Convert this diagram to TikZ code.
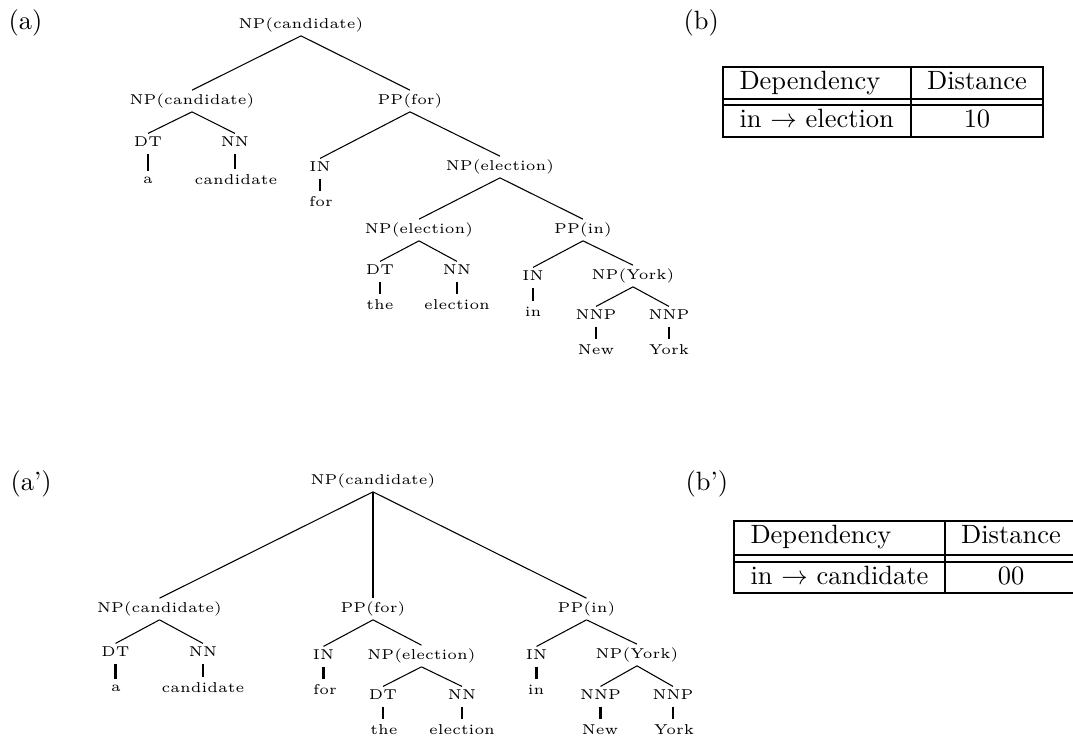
\documentclass[tikz,border=0pt]{standalone}
\usepackage{fontspec}
\newfontfamily\treefont{lmroman5-regular.otf}
\begin{document}
\begin{tikzpicture}[x=0.378pt,y=-0.378pt,
  tn/.style={font=\fontsize{5.4}{6.5}\treefont, inner sep=1.2pt},
  branch/.style={line width=0.4pt},
  leafbar/.style={line width=0.9pt, shorten <=1.2pt, shorten >=0.8pt},
  trunk/.style={line width=0.9pt},
  lbl/.style={anchor=base west, inner sep=0pt},
  cell/.style={anchor=base, inner sep=0pt},
  cellw/.style={anchor=base west, inner sep=0pt},
  rule/.style={line width=0.75pt}]
\useasboundingbox (0,0) rectangle (1073,738);

% ---------- panel labels ----------
\node[lbl] (la)  at (8,29.5)   {(a)};
\node[lbl] (lb)  at (683,29.5) {(b)};
\node[lbl] (la2) at (10,490.5) {(a')};
\node[lbl] (lb2) at (685,490.5) {(b')};

% ---------- tree (a) ----------
\node[tn] (r)    at (301,25)  {NP(candidate)};
\node[tn] (np1)  at (192,101) {NP(candidate)};
\node[tn] (pp1)  at (410,101) {PP(for)};
\node[tn] (dt1)  at (148,142) {DT};
\node[tn] (nn1)  at (235,142) {NN};
\node[tn] (w1)   at (148,180) {a};
\node[tn] (w2)   at (236,180) {candidate};
\node[tn] (in1)  at (320,167) {IN};
\node[tn] (w3)   at (321,202) {for};
\node[tn] (npe)  at (500,167) {NP(election)};
\node[tn] (npe2) at (419,230) {NP(election)};
\node[tn] (ppin) at (583,230) {PP(in)};
\node[tn] (dt2)  at (380,270) {DT};
\node[tn] (nn2)  at (457,270) {NN};
\node[tn] (w4)   at (380,305) {the};
\node[tn] (w5)   at (457,305) {election};
\node[tn] (in2)  at (533,276) {IN};
\node[tn] (w6)   at (533,312) {in};
\node[tn] (npy)  at (633,276) {NP(York)};
\node[tn] (nnp1) at (596,315) {NNP};
\node[tn] (nnp2) at (669,315) {NNP};
\node[tn] (w7)   at (596,350) {New};
\node[tn] (w8)   at (669,350) {York};

\draw[branch] (r.south) -- (np1.north);
\draw[branch] (r.south) -- (pp1.north);
\draw[branch] (np1.south) -- (dt1.north);
\draw[branch] (np1.south) -- (nn1.north);
\draw[branch] (pp1.south) -- (in1.north);
\draw[branch] (pp1.south) -- (npe.north);
\draw[branch] (npe.south) -- (npe2.north);
\draw[branch] (npe.south) -- (ppin.north);
\draw[branch] (npe2.south) -- (dt2.north);
\draw[branch] (npe2.south) -- (nn2.north);
\draw[branch] (ppin.south) -- (in2.north);
\draw[branch] (ppin.south) -- (npy.north);
\draw[branch] (npy.south) -- (nnp1.north);
\draw[branch] (npy.south) -- (nnp2.north);
% word bars hang straight down from their tag
\draw[leafbar] (dt1.south) -- (dt1.south |- w1.north);
\draw[leafbar] (nn1.south) -- (nn1.south |- w2.north);
\draw[leafbar] (in1.south) -- (in1.south |- w3.north);
\draw[leafbar] (dt2.south) -- (dt2.south |- w4.north);
\draw[leafbar] (nn2.south) -- (nn2.south |- w5.north);
\draw[leafbar] (in2.south) -- (in2.south |- w6.north);
\draw[leafbar] (nnp1.south) -- (nnp1.south |- w7.north);
\draw[leafbar] (nnp2.south) -- (nnp2.south |- w8.north);

% ---------- table (b) ----------
\draw[rule] (723,67) rectangle (1043,137);
\draw[rule] (723,99) -- (1043,99);
\draw[rule] (723,105) -- (1043,105);
\draw[rule] (911,67) -- (911,137);
\node[cellw] (bh1) at (739,89)  {Dependency};
\node[cell]  (bh2) at (977,89)  {Distance};
\node[cellw] (bc1) at (739,127) {in $\rightarrow$ election};
\node[cell]  (bc2) at (977,127) {10};

% ---------- tree (a') ----------
\node[tn] (R)     at (373,481)   {NP(candidate)};
\node[tn] (Np1)   at (159.5,609) {NP(candidate)};
\node[tn] (Pp1)   at (373,609)   {PP(for)};
\node[tn] (Ppin)  at (586.5,609) {PP(in)};
\node[tn] (Dt1)   at (115.5,652) {DT};
\node[tn] (Nn1)   at (203,652)   {NN};
\node[tn] (W1)    at (116,688)   {a};
\node[tn] (W2)    at (203,688)   {candidate};
\node[tn] (In1)   at (323.5,655) {IN};
\node[tn] (W3)    at (325,690)   {for};
\node[tn] (Npe)   at (421.5,656) {NP(election)};
\node[tn] (Dt2)   at (383,695)   {DT};
\node[tn] (Nn2)   at (462,695)   {NN};
\node[tn] (W4)    at (384,730)   {the};
\node[tn] (W5)    at (462,730)   {election};
\node[tn] (In2)   at (536.5,655) {IN};
\node[tn] (W6)    at (536,690)   {in};
\node[tn] (Npy)   at (637,655)   {NP(York)};
\node[tn] (Nnp1)  at (600.5,695) {NNP};
\node[tn] (Nnp2)  at (673,695)   {NNP};
\node[tn] (W7)    at (600,730)   {New};
\node[tn] (W8)    at (674,730)   {York};

\draw[branch] (R.south) -- (Np1.north);
\draw[trunk]  (R.south) -- (Pp1.north);
\draw[branch] (R.south) -- (Ppin.north);
\draw[branch] (Np1.south) -- (Dt1.north);
\draw[branch] (Np1.south) -- (Nn1.north);
\draw[branch] (Pp1.south) -- (In1.north);
\draw[branch] (Pp1.south) -- (Npe.north);
\draw[branch] (Npe.south) -- (Dt2.north);
\draw[branch] (Npe.south) -- (Nn2.north);
\draw[branch] (Ppin.south) -- (In2.north);
\draw[branch] (Ppin.south) -- (Npy.north);
\draw[branch] (Npy.south) -- (Nnp1.north);
\draw[branch] (Npy.south) -- (Nnp2.north);
\draw[leafbar] (Dt1.south) -- (Dt1.south |- W1.north);
\draw[leafbar] (Nn1.south) -- (Nn1.south |- W2.north);
\draw[leafbar] (In1.south) -- (In1.south |- W3.north);
\draw[leafbar] (Dt2.south) -- (Dt2.south |- W4.north);
\draw[leafbar] (Nn2.south) -- (Nn2.south |- W5.north);
\draw[leafbar] (In2.south) -- (In2.south |- W6.north);
\draw[leafbar] (Nnp1.south) -- (Nnp1.south |- W7.north);
\draw[leafbar] (Nnp2.south) -- (Nnp2.south |- W8.north);

% ---------- table (b') ----------
\draw[rule] (734,521) rectangle (1077,593);
\draw[rule] (734,555) -- (1077,555);
\draw[rule] (734,562) -- (1077,562);
\draw[rule] (945,521) -- (945,593);
\node[cellw] (ch1) at (750,543)  {Dependency};
\node[cell]  (ch2) at (1011,543) {Distance};
\node[cellw] (cc1) at (750,584)  {in $\rightarrow$ candidate};
\node[cell]  (cc2) at (1011,584) {00};
\end{tikzpicture}
\end{document}
